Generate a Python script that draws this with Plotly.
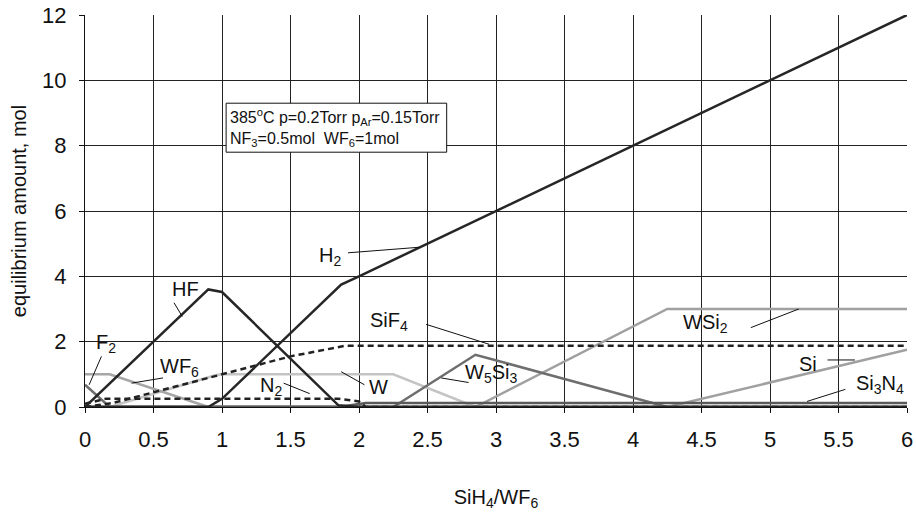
import plotly.graph_objects as go

# Equilibrium composition vs SiH4/WF6 ratio (piecewise from calculation)
hf_x = [0, 0.9, 1.0, 1.85, 2.0, 6]
hf_y = [0, 3.6, 3.52, 0.05, 0, 0]
h2_x = [0, 0.9, 1.0, 1.87, 2.0, 6]
h2_y = [0, 0, 0.25, 3.75, 4.0, 12]
f2_x = [0, 0.18, 6]
f2_y = [0.68, 0, 0]
wf6_x = [0, 0.18, 0.9, 6]
wf6_y = [1, 1, 0, 0]
w_x = [0, 0.18, 0.95, 1.0, 2.25, 2.85, 6]
w_y = [0, 0, 0.97, 1.0, 1.0, 0, 0]
n2_x = [0, 0.15, 1.85, 2.0, 2.05, 6]
n2_y = [0.1, 0.25, 0.25, 0.17, 0, 0]
sif4_x = [0, 0.2, 1.0, 1.5, 1.9, 6]
sif4_y = [0, 0.12, 1.0, 1.55, 1.875, 1.875]
si3n4_x = [0, 1.85, 2.05, 6]
si3n4_y = [0, 0, 0.125, 0.125]
w5si3_x = [0, 2.25, 2.85, 4.25, 6]
w5si3_y = [0, 0, 1.6, 0, 0]
wsi2_x = [0, 2.85, 4.25, 6]
wsi2_y = [0, 0, 3, 3]
si_x = [0, 4.25, 6]
si_y = [0, 0, 1.75]

# Species labels and their leader lines (x, y, text, leader x0, y0, x1, y1)
labels = [
    (0.15, 1.95, "F<sub>2</sub>", 0.12, 1.55, 0.03, 0.68),
    (0.73, 3.6, "HF", 0.65, 3.19, 0.71, 2.77),
    (0.69, 1.21, "WF<sub>6</sub>", 0.34, 0.73, 0.57, 0.89),
    (1.36, 0.63, "N<sub>2</sub>", 1.45, 0.73, 1.64, 0.41),
    (2.14, 0.62, "W", 1.87, 1.08, 2.04, 0.68),
    (2.96, 1.02, "W<sub>5</sub>Si<sub>3</sub>", 2.6, 0.89, 2.8, 0.75),
    (2.22, 2.62, "SiF<sub>4</sub>", 2.49, 2.53, 2.95, 1.92),
    (1.79, 4.62, "H<sub>2</sub>", 1.92, 4.72, 2.44, 4.89),
    (4.53, 2.56, "WSi<sub>2</sub>", 4.86, 2.43, 5.21, 3.0),
    (5.28, 1.33, "Si", 5.42, 1.44, 5.62, 1.44),
    (5.8, 0.68, "Si<sub>3</sub>N<sub>4</sub>", 5.27, 0.17, 5.55, 0.54),
]

note_text = ("385<sup>o</sup>C p=0.2Torr p<sub>Ar</sub>=0.15Torr<br>"
             "NF<sub>3</sub>=0.5mol  WF<sub>6</sub>=1mol")
note_box = (1.03, 7.8, 2.64, 9.3)

FONT = "Liberation Sans, Arial"

fig = go.Figure()

series = [
    (w_x, w_y, "#c4c4c4", None),
    (wf6_x, wf6_y, "#a6a6a6", None),
    (wsi2_x, wsi2_y, "#a0a0a0", None),
    (si_x, si_y, "#a0a0a0", None),
    (f2_x, f2_y, "#6e6e6e", None),
    (w5si3_x, w5si3_y, "#6e6e6e", None),
    (si3n4_x, si3n4_y, "#5a5a5a", None),
    (n2_x, n2_y, "#222222", "6px,4px"),
    (sif4_x, sif4_y, "#222222", "6px,4px"),
    (hf_x, hf_y, "#262626", None),
    (h2_x, h2_y, "#262626", None),
]
for xs, ys, col, dash in series:
    fig.add_trace(go.Scatter(
        x=xs, y=ys, mode="lines",
        line=dict(color=col, width=2.5, dash=dash or "solid"),
        showlegend=False, hoverinfo="skip"))

for lx, ly, txt, x0, y0, x1, y1 in labels:
    fig.add_annotation(x=lx, y=ly, text=txt, showarrow=False,
                       font=dict(family=FONT, size=20, color="#111"))
    fig.add_shape(type="line", x0=x0, y0=y0, x1=x1, y1=y1,
                  line=dict(color="#111", width=1))

bx0, by0, bx1, by1 = note_box
fig.add_shape(type="rect", x0=bx0, y0=by0, x1=bx1, y1=by1,
              fillcolor="white", line=dict(color="#111", width=1), layer="above")
fig.add_annotation(x=bx0 + 0.015, y=(by0 + by1) / 2, text=note_text, showarrow=False,
                   xanchor="left", yanchor="middle", align="left",
                   font=dict(family=FONT, size=16, color="#111"))

fig.update_layout(
    width=916, height=531,
    margin=dict(l=85, r=3, t=15, b=124),
    paper_bgcolor="white", plot_bgcolor="white",
    font=dict(family=FONT, size=20, color="#111"),
    xaxis=dict(range=[0, 6], dtick=0.5, tick0=0, showgrid=True,
               gridcolor="#222", gridwidth=1, zeroline=False,
               showline=True, linecolor="#111", linewidth=1,
               ticks="outside", ticklen=5, tickcolor="#111",
               ticklabelstandoff=8, ticklabeloverflow="allow",
               title=dict(text="SiH<sub>4</sub>/WF<sub>6</sub>", standoff=38,
                          font=dict(size=20)),
               tickfont=dict(size=22)),
    yaxis=dict(range=[0, 12], dtick=2, showgrid=True,
               gridcolor="#222", gridwidth=1, zeroline=False,
               showline=True, linecolor="#111", linewidth=1,
               ticks="outside", ticklen=5, tickcolor="#111",
               ticklabelstandoff=8,
               title=dict(text="equilibrium amount, mol", standoff=10,
                          font=dict(size=20)),
               tickfont=dict(size=22)),
)

fig.write_html("out.html")
